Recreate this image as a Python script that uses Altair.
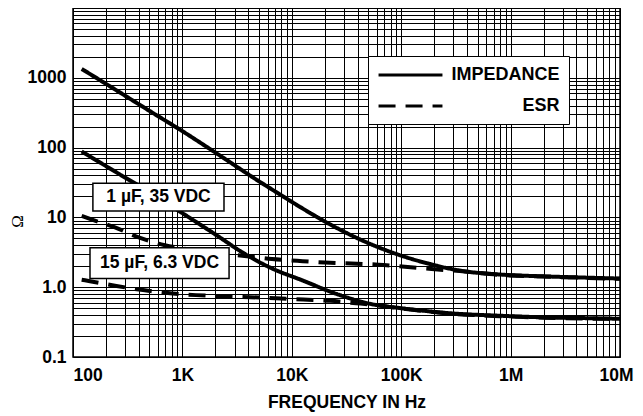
import altair as alt
import pandas as pd

# ---- data (frequency in Hz, value in ohms) ----
Z1_F = [120, 200, 500, 1000, 2000, 5000, 7800, 12000, 22300, 45000, 91000, 183000, 344000, 800000, 2e6, 5e6, 1e7]
Z1_V = [1340, 820, 336, 172, 85, 33, 21.3, 14, 7.97, 4.61, 2.98, 2.15, 1.73, 1.52, 1.43, 1.37, 1.33]

ESR1_F = [120, 143, 242, 393, 692, 1000, 3700, 6600, 11200, 20000, 35000, 62000, 108000, 190000, 344000, 800000, 2e6, 5e6, 1e7]
ESR1_V = [10.5, 9.5, 7.2, 5.2, 4.0, 3.6, 2.8, 2.53, 2.39, 2.26, 2.19, 2.10, 1.96, 1.82, 1.70, 1.50, 1.42, 1.36, 1.32]

Z2_F = [120, 270, 500, 1000, 2210, 3370, 6300, 12700, 25700, 51900, 100000, 183000, 300000, 800000, 2e6, 5e6, 1e7]
Z2_V = [88, 41, 23, 11.5, 5.14, 3.3, 1.92, 1.24, 0.80, 0.578, 0.50, 0.45, 0.42, 0.39, 0.37, 0.36, 0.353]

ESR2_F = [120, 143, 242, 437, 770, 1330, 2500, 4150, 7200, 12700, 22400, 38600, 55000, 100000, 183000, 300000, 800000, 2e6, 5e6, 1e7]
ESR2_V = [1.28, 1.22, 1.05, 0.91, 0.82, 0.77, 0.74, 0.72, 0.695, 0.665, 0.638, 0.59, 0.56, 0.495, 0.445, 0.415, 0.385, 0.365, 0.355, 0.35]

SERIES = ["IMPEDANCE", "ESR"]
CAPS = ["1 µF, 35 VDC", "15 µF, 6.3 VDC"]

XTICK_VALUES = [100, 1000, 10000, 100000, 1000000, 10000000]
XTICK_LABELS = ["100", "1K", "10K", "100K", "1M", "10M"]
YTICK_VALUES = [0.1, 1, 10, 100, 1000]
YTICK_LABELS = ["0.1", "1.0", "10", "100", "1000"]

# annotation boxes (data coordinates: frequency / ohms)
ANN_TEXT = CAPS
ANN_F = [605, 618]
ANN_V = [19.5, 2.2]
ANN_F1 = [152, 143]
ANN_F2 = [2400, 2670]
ANN_V1 = [12.3, 1.33]
ANN_V2 = [30.9, 3.67]

# ---- build tables ----
rows = []
for cap, typ, fs, vs in [
    (CAPS[0], "IMPEDANCE", Z1_F, Z1_V),
    (CAPS[0], "ESR", ESR1_F, ESR1_V),
    (CAPS[1], "IMPEDANCE", Z2_F, Z2_V),
    (CAPS[1], "ESR", ESR2_F, ESR2_V),
]:
    for f, v in zip(fs, vs):
        rows.append({"cap": cap, "type": typ, "f": f, "ohm": v})
lines_df = pd.DataFrame(rows)

ann_df = pd.DataFrame({"text": ANN_TEXT, "f": ANN_F, "ohm": ANN_V,
                       "f1": ANN_F1, "f2": ANN_F2, "o1": ANN_V1, "o2": ANN_V2})

xgrid = [k * 10 ** e for e in range(2, 7) for k in range(1, 10)] + [10 ** 7]
ygrid = [k * 10.0 ** e for e in range(-1, 4) for k in range(1, 10)] + [10 ** 4]
ygrid = [round(v, 6) for v in ygrid]


def label_expr(values, labels):
    expr = "''"
    for v, l in reversed(list(zip(values, labels))):
        expr = f"abs(datum.value - {v}) < {v * 1e-6} ? '{l}' : {expr}"
    return expr


FONT = "Liberation Sans"

x_axis = alt.Axis(values=xgrid, labelExpr=label_expr(XTICK_VALUES, XTICK_LABELS),
                  ticks=False, domain=False, grid=True, gridColor="#000", gridWidth=1,
                  labelFont=FONT, labelFontWeight="bold", labelFontSize=17.5, labelColor="#000",
                  labelPadding=9, labelOverlap=False, labelBound=False,
                  labelAlign={"condition": {"test": "datum.value == 100", "value": "left"}, "value": "center"},
                  labelOffset={"condition": {"test": "datum.value == 10000000", "value": -4}, "value": 0},
                  titleFont=FONT, titleFontWeight="bold", titleFontSize=17.5, titleColor="#000",
                  titlePadding=10)
y_axis = alt.Axis(values=ygrid, labelExpr=label_expr(YTICK_VALUES, YTICK_LABELS),
                  ticks=False, domain=False, grid=True, gridColor="#000", gridWidth=1,
                  labelFont=FONT, labelFontWeight="bold", labelFontSize=17.5, labelColor="#000",
                  labelPadding=7, labelOverlap=False, labelBound=False, labelBaseline="middle",
                  titleFont="Liberation Serif", titleFontWeight="normal", titleFontSize=17,
                  titleColor="#000", titleX=-56, titleY=213, titleAlign="center",
                  titleBaseline="middle")

xs = alt.Scale(type="log", domain=[100, 1e7], nice=False)
ys = alt.Scale(type="log", domain=[0.1, 1e4], nice=False)

lines = alt.Chart(lines_df).mark_line(color="#000", strokeWidth=4, strokeCap="butt",
                                      interpolate="monotone").encode(
    x=alt.X("f:Q", scale=xs, axis=x_axis, title="FREQUENCY IN Hz"),
    y=alt.Y("ohm:Q", scale=ys, axis=y_axis, title="Ω"),
    strokeDash=alt.StrokeDash(
        "type:N",
        scale=alt.Scale(domain=SERIES, range=[[1, 0], [17, 10]]),
        legend=alt.Legend(
            title=None, orient="none", legendX=295, legendY=48,
            direction="vertical", symbolType="M-3.76,0H3.76", symbolSize=289,
            symbolOffset=23.5,
            symbolStrokeWidth=3, symbolStrokeColor="#000",
            labelFont=FONT, labelFontWeight="bold", labelFontSize=18, labelColor="#000",
            labelAlign="right",
            labelOffset=139, rowPadding=12, padding=9,
            strokeColor="#000", fillColor="#fff",
        ),
    ),
    detail="cap:N",
    order="f:Q",
)

boxes = alt.Chart(ann_df).mark_rect(fill="#fff", stroke="#000", strokeWidth=1.5).encode(
    x=alt.X("f1:Q", scale=xs, axis=x_axis, title="FREQUENCY IN Hz"),
    x2="f2:Q",
    y=alt.Y("o1:Q", scale=ys, axis=y_axis, title="Ω"),
    y2="o2:Q",
)

texts = alt.Chart(ann_df).mark_text(font=FONT, fontWeight="bold", fontSize=17.5, color="#000",
                                    align="center", baseline="middle").encode(
    x=alt.X("f:Q", scale=xs, axis=x_axis, title="FREQUENCY IN Hz"),
    y=alt.Y("ohm:Q", scale=ys, axis=y_axis, title="Ω"),
    text="text:N",
)

chart = alt.layer(lines, boxes, texts).properties(
    width=547, height=349,
    autosize=alt.AutoSizeParams(type="none"),
    padding={"left": 65, "top": 0, "right": 15, "bottom": 55},
    background="#fff",
).configure_view(stroke="#000", strokeWidth=1.5)

chart.save("out.html", embed_options={"renderer": "svg", "actions": False})
